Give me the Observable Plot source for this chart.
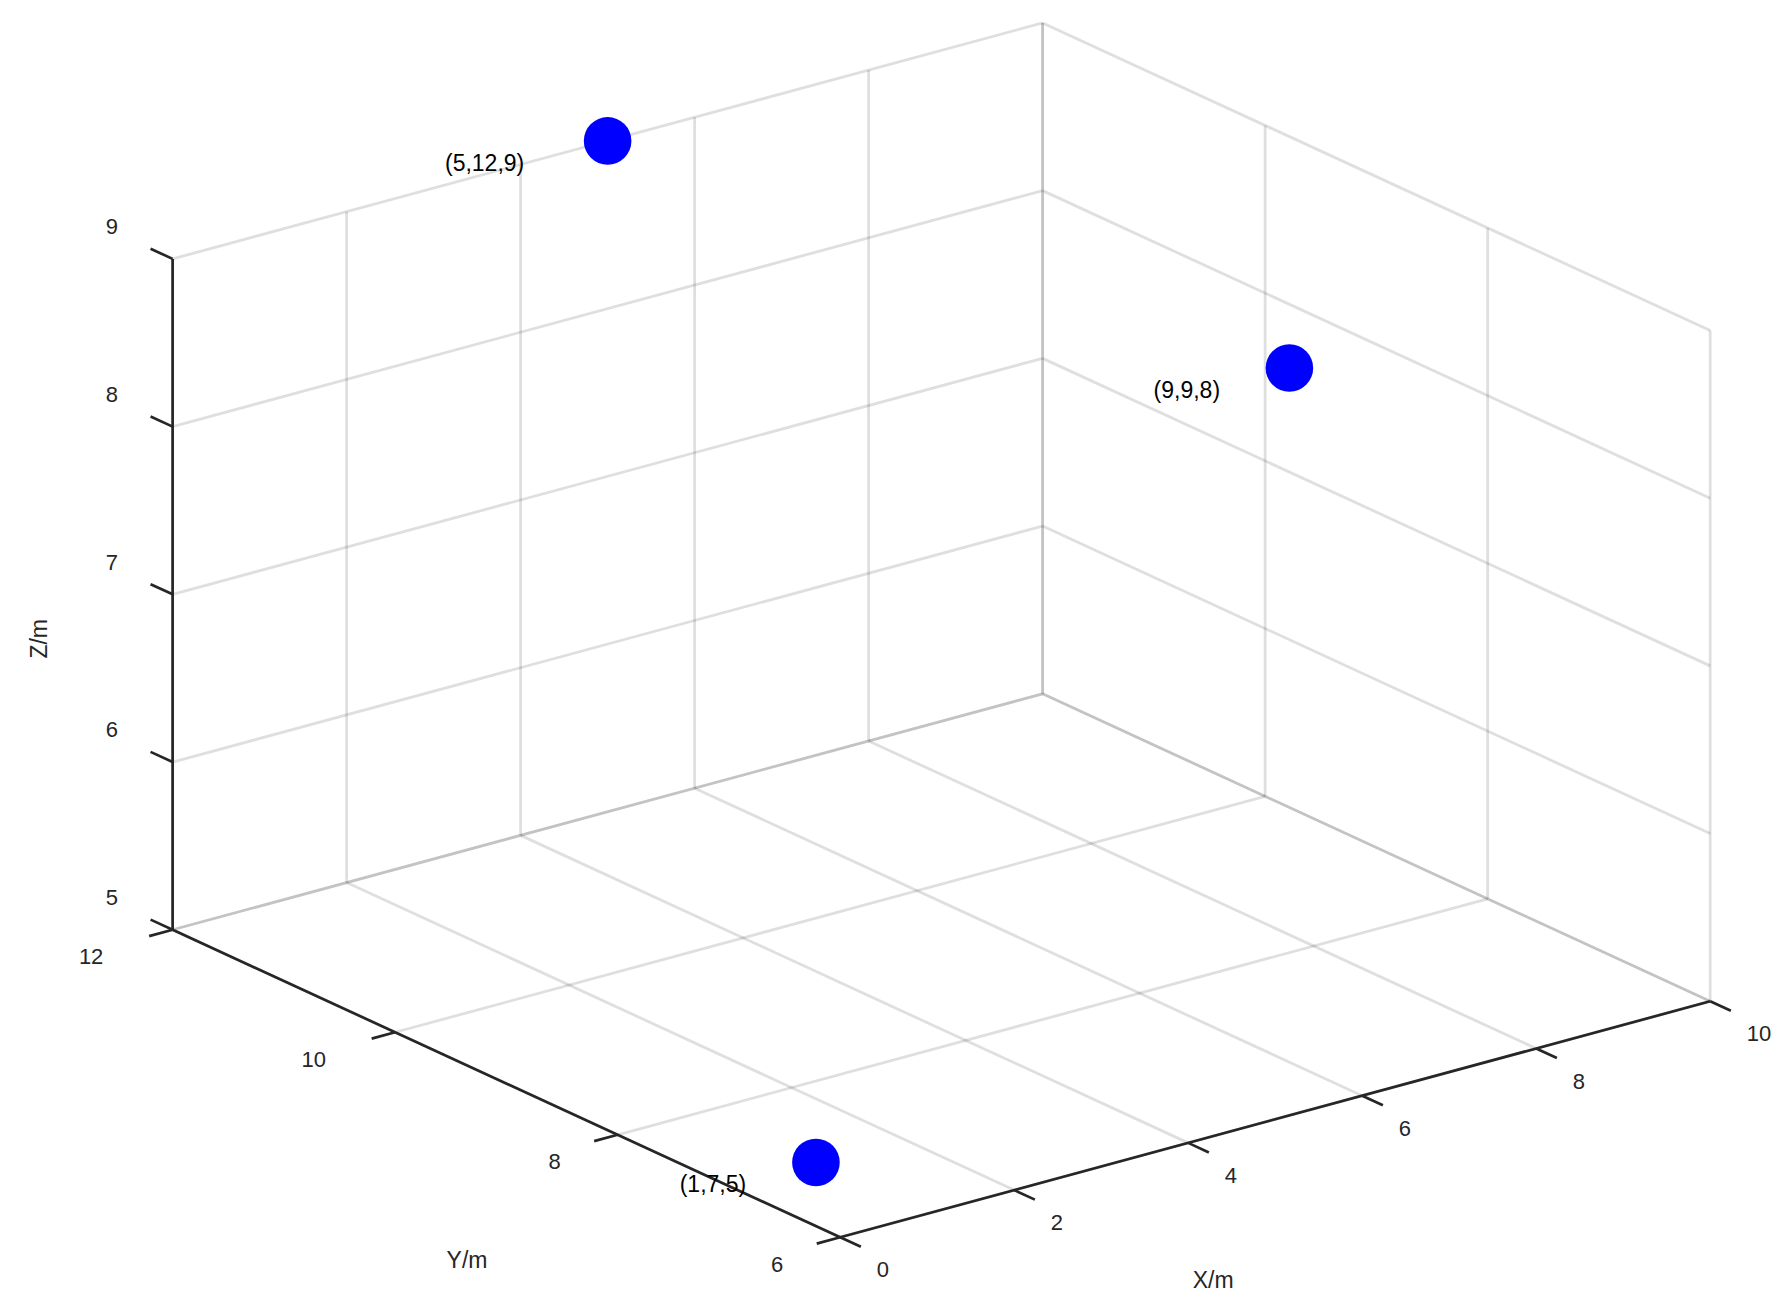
<!DOCTYPE html>
<html>
<head>
<meta charset="utf-8">
<script src="https://cdn.jsdelivr.net/npm/d3@7"></script>
<script src="https://cdn.jsdelivr.net/npm/@observablehq/plot@0.6"></script>
<style>
  html, body { margin: 0; padding: 0; background: #fff; }
  #chart svg { display: block; }
</style>
</head>
<body>
<div id="chart"></div>
<script>
// ---- data ----
const pointX = [5, 9, 1];
const pointY = [12, 9, 7];
const pointZ = [9, 8, 5];
const pointLabels = ["(5,12,9)", "(9,9,8)", "(1,7,5)"];
const xTicks = [0, 2, 4, 6, 8, 10];
const yTicks = [6, 8, 10, 12];
const zTicks = [5, 6, 7, 8, 9];
const xDomain = [0, 10];
const yDomain = [6, 12];
const zDomain = [5, 9];
const xTitle = "X/m", yTitle = "Y/m", zTitle = "Z/m";

// ---- view (MATLAB-like az/el) ----
const az = -37.5 * Math.PI / 180;
const el = 20.7 * Math.PI / 180;
const zAspect = 0.654;
const S = 1096.6, CX = 940.9, CY = 629.6;

function proj(x, y, z) {
  const sx = (x - xDomain[0]) / (xDomain[1] - xDomain[0]) - 0.5;
  const sy = (y - yDomain[0]) / (yDomain[1] - yDomain[0]) - 0.5;
  const sz = ((z - zDomain[0]) / (zDomain[1] - zDomain[0]) - 0.5) * zAspect;
  const h = Math.cos(az) * sx + Math.sin(az) * sy;
  const v = Math.sin(el) * (-Math.sin(az) * sx + Math.cos(az) * sy) + Math.cos(el) * sz;
  return [h, v];
}
// pixel offset -> projected units
function shift(p, dx, dy) { return [p[0] + dx / S, p[1] - dy / S]; }
function seg(a, b, extra = {}) {
  const p = proj(...a), q = proj(...b);
  return {x1: p[0], y1: p[1], x2: q[0], y2: q[1], ...extra};
}

const [x0, x1] = xDomain, [y0, y1] = yDomain, [z0, z1] = zDomain;

// grid segments (floor, back-left wall y=max, back-right wall x=max)
const grid = [];
for (const x of xTicks) grid.push(seg([x, y0, z0], [x, y1, z0]));
for (const y of yTicks) grid.push(seg([x0, y, z0], [x1, y, z0]));
for (const z of zTicks) grid.push(seg([x0, y1, z], [x1, y1, z]));
for (const x of xTicks) grid.push(seg([x, y1, z0], [x, y1, z1]));
for (const z of zTicks) grid.push(seg([x1, y0, z], [x1, y1, z]));
for (const y of yTicks) grid.push(seg([x1, y, z0], [x1, y, z1]));

// axes
const axes = [
  seg([x0, y0, z0], [x1, y0, z0]),
  seg([x0, y0, z0], [x0, y1, z0]),
  seg([x0, y1, z0], [x0, y1, z1])
];

// ticks (length as fraction of box)
const tlX = 0.031 * (y1 - y0), tlY = 0.027 * (x1 - x0), tlZ = 0.033 * (y1 - y0);
const ticks = [];
for (const x of xTicks) ticks.push(seg([x, y0, z0], [x, y0 - tlX, z0]));
for (const y of yTicks) ticks.push(seg([x0, y, z0], [x0 - tlY, y, z0]));
for (const z of zTicks) ticks.push(seg([x0, y1, z], [x0, y1 + tlZ, z]));

// tick labels
const tickLabels = [];
for (const x of xTicks) { const p = shift(proj(x, y0, z0), 36.5, 33); tickLabels.push({x: p[0], y: p[1], t: String(x), a: "start"}); }
for (const y of yTicks) { const s = String(y); const p = shift(proj(x0, y, z0), s.length === 1 ? -63 : -81.5, 27.5); tickLabels.push({x: p[0], y: p[1], t: s, a: "middle"}); }
for (const z of zTicks) { const p = shift(proj(x0, y1, z), -60.7, -31.6); tickLabels.push({x: p[0], y: p[1], t: String(z), a: "middle"}); }

// points
const points = pointX.map((x, i) => {
  const p = proj(x, pointY[i], pointZ[i]);
  return {x: p[0], y: p[1], label: pointLabels[i]};
});
const labelOffsets = [[-123, 23], [-102.6, 22.6], [-103, 22.6]];
const pointText = points.map((d, i) => {
  const p = shift([d.x, d.y], labelOffsets[i][0], labelOffsets[i][1]);
  return {x: p[0], y: p[1], label: d.label};
});

// axis titles
const tX = shift(proj((x0 + x1) / 2, y0, z0), -62, 161);
const tY = shift(proj(x0, (y0 + y1) / 2, z0), -39.4, 177.4);
const tZ = shift(proj(x0, y1, (z0 + z1) / 2), -133.4, 44.5);
const titles = [
  {x: tX[0], y: tX[1], t: xTitle, r: 0},
  {x: tY[0], y: tY[1], t: yTitle, r: 0}
];
const titlesZ = [{x: tZ[0], y: tZ[1], t: zTitle}];

const font = "'Liberation Sans', Arial, Helvetica, sans-serif";
const ink = "#262626";

const chart = Plot.plot({
  width: 1784,
  height: 1307,
  margin: 0,
  style: {fontFamily: font, background: "#fff", overflow: "visible"},
  x: {type: "linear", domain: [-1, 1], range: [CX - S, CX + S], axis: null},
  y: {type: "linear", domain: [-1, 1], range: [CY + S, CY - S], axis: null},
  marks: [
    Plot.link(grid, {x1: "x1", y1: "y1", x2: "x2", y2: "y2", stroke: ink, strokeOpacity: 0.15, strokeWidth: 2.8}),
    Plot.link(axes, {x1: "x1", y1: "y1", x2: "x2", y2: "y2", stroke: ink, strokeWidth: 2.7}),
    Plot.link(ticks, {x1: "x1", y1: "y1", x2: "x2", y2: "y2", stroke: ink, strokeWidth: 2.7}),
    Plot.text(tickLabels.filter(d => d.a === "start"), {x: "x", y: "y", text: "t", textAnchor: "start", fontSize: 22, fill: ink}),
    Plot.text(tickLabels.filter(d => d.a === "middle"), {x: "x", y: "y", text: "t", textAnchor: "middle", fontSize: 22, fill: ink}),
    Plot.text(titles, {x: "x", y: "y", text: "t", textAnchor: "middle", fontSize: 23, fill: ink}),
    Plot.text(titlesZ, {x: "x", y: "y", text: "t", textAnchor: "middle", fontSize: 23, fill: ink, rotate: -90}),
    Plot.dot(points, {x: "x", y: "y", r: 23.8, fill: "#0000ff", stroke: null}),
    Plot.text(pointText, {x: "x", y: "y", text: "label", textAnchor: "middle", fontSize: 23, fill: "#000"})
  ]
});
document.getElementById("chart").appendChild(chart);
</script>
</body>
</html>
